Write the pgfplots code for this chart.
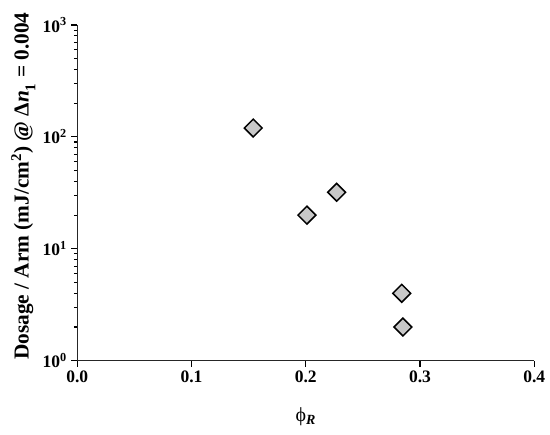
\documentclass[border=0pt]{standalone}
\usepackage{fontspec}
\setmainfont{Liberation Serif}
\usepackage{pgfplots}
\pgfplotsset{compat=1.18}
\definecolor{mkfill}{RGB}{200,200,200}
\begin{document}
\begin{tikzpicture}
\begin{axis}[
  scale only axis,
  width=457pt, height=335.7pt,
  at={(0,0)}, anchor=south west,
  xmin=0, xmax=0.4, ymin=1, ymax=1000,
  ymode=log,
  axis x line=bottom, axis y line=left,
  axis line style={-, line width=1.3pt, black!85},
  tick align=outside,
  major tick length=6pt, minor tick length=3.5pt,
  tick style={line width=1.1pt, black},
  xtick={0,0.1,0.2,0.3,0.4},
  xticklabels={0.0,0.1,0.2,0.3,0.4},
  xticklabel style={font=\bfseries\fontsize{17.5}{17.5}\selectfont, yshift=-1pt},
  ytick={1,10,100,1000},
  yticklabels={\textbf{10}\textsuperscript{\bfseries 0},\textbf{10}\textsuperscript{\bfseries 1},\textbf{10}\textsuperscript{\bfseries 2},\textbf{10}\textsuperscript{\bfseries 3}},
  yticklabel style={font=\fontsize{17.5}{17.5}\selectfont, xshift=-1pt},
  clip=false,
]
\addplot[only marks, mark=square*, mark size=6.3pt,
  mark options={rotate=45, fill=mkfill, draw=black, line width=1.5pt}]
  coordinates {
  (0.154,120)
  (0.201,20)
  (0.227,32)
  (0.284,4)
  (0.285,2)
};
\node[rotate=90, yshift=54pt, font=\bfseries\fontsize{21.3}{21.3}\selectfont] at (rel axis cs:0,0.52)
  {Dosage / Arm (mJ/cm\textsuperscript{2}) @ Δ\textit{n}\raisebox{-0.35ex}{\textsubscript{1}} = 0.004};
\node[yshift=-56pt, font=\fontsize{20}{20}\selectfont] at (rel axis cs:0.5,0)
  {ϕ\textsubscript{\textit{\bfseries R}}};
\end{axis}
\pgfresetboundingbox
\path (-77.3pt,-74.3pt) rectangle (472.7pt,360.7pt);
\end{tikzpicture}
\end{document}
